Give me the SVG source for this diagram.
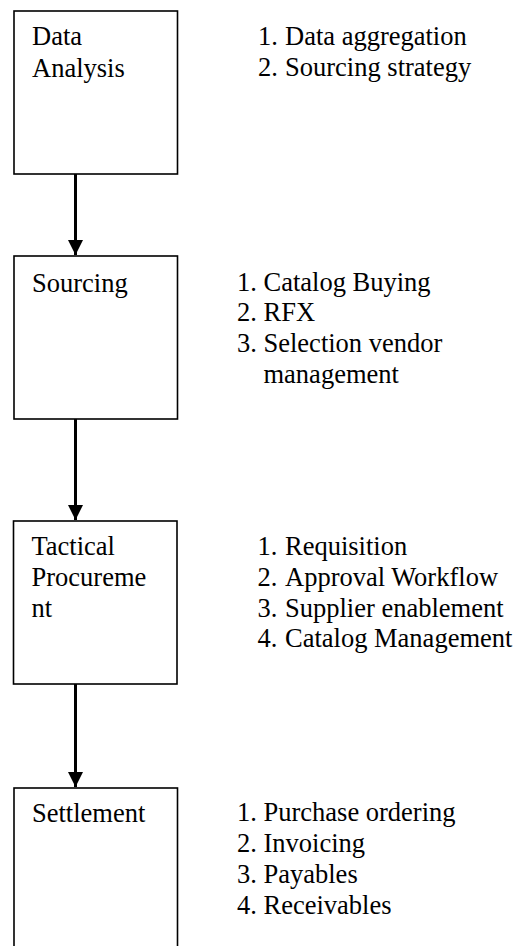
<svg xmlns="http://www.w3.org/2000/svg" width="523" height="946" viewBox="0 0 523 946">
<style>
.box{fill:#fff;stroke:#000;stroke-width:1.6}
.t{font-family:"Liberation Serif","Times New Roman",serif;font-size:26.5px;fill:#000}
.conn{stroke:#000;stroke-width:3;fill:none}
</style>
<defs>
<marker id="ah" markerWidth="5" markerHeight="5" refX="5" refY="2.5" orient="auto" markerUnits="strokeWidth">
<path d="M0,0 L5,2.5 L0,5 Z" fill="#000"/>
</marker>
</defs>
<rect width="523" height="946" fill="#fff"/>
<g id="connectors">
<line class="conn" x1="75.5" y1="174" x2="75.5" y2="255" marker-end="url(#ah)"/>
<line class="conn" x1="75.5" y1="419" x2="75.5" y2="520" marker-end="url(#ah)"/>
<line class="conn" x1="75.5" y1="684" x2="75.5" y2="787" marker-end="url(#ah)"/>
</g>
<g id="node-data-analysis">
<rect class="box" x="14" y="11" width="163.5" height="163"/>
<text class="t" x="32" y="45">Data</text>
<text class="t" x="32" y="76.5">Analysis</text>
</g>
<g id="list-data-analysis">
<text class="t" y="45"><tspan x="258">1.</tspan><tspan x="285">Data aggregation</tspan></text>
<text class="t" y="76"><tspan x="258">2.</tspan><tspan x="285">Sourcing strategy</tspan></text>
</g>
<g id="node-sourcing">
<rect class="box" x="14" y="256" width="163.5" height="163"/>
<text class="t" x="32" y="291.5">Sourcing</text>
</g>
<g id="list-sourcing">
<text class="t" y="290.5"><tspan x="237">1.</tspan><tspan x="263.5">Catalog Buying</tspan></text>
<text class="t" y="321"><tspan x="237">2.</tspan><tspan x="263.5">RFX</tspan></text>
<text class="t" y="351.5"><tspan x="237">3.</tspan><tspan x="263.5">Selection vendor</tspan></text>
<text class="t" x="263.5" y="382.5">management</text>
</g>
<g id="node-tactical">
<rect class="box" x="13.5" y="521" width="163.5" height="163"/>
<text class="t" x="31.5" y="555">Tactical</text>
<text class="t" x="31.5" y="586">Procureme</text>
<text class="t" x="31.5" y="617">nt</text>
</g>
<g id="list-tactical">
<text class="t" y="555"><tspan x="257.5">1.</tspan><tspan x="285">Requisition</tspan></text>
<text class="t" y="586"><tspan x="257.5">2.</tspan><tspan x="285">Approval Workflow</tspan></text>
<text class="t" y="616.5"><tspan x="257.5">3.</tspan><tspan x="285">Supplier enablement</tspan></text>
<text class="t" y="647"><tspan x="257.5">4.</tspan><tspan x="285">Catalog Management</tspan></text>
</g>
<g id="node-settlement">
<rect class="box" x="14" y="788" width="163.5" height="163"/>
<text class="t" x="32" y="821.5">Settlement</text>
</g>
<g id="list-settlement">
<text class="t" y="821"><tspan x="237">1.</tspan><tspan x="263.5">Purchase ordering</tspan></text>
<text class="t" y="852"><tspan x="237">2.</tspan><tspan x="263.5">Invoicing</tspan></text>
<text class="t" y="883"><tspan x="237">3.</tspan><tspan x="263.5">Payables</tspan></text>
<text class="t" y="914"><tspan x="237">4.</tspan><tspan x="263.5">Receivables</tspan></text>
</g>
</svg>
